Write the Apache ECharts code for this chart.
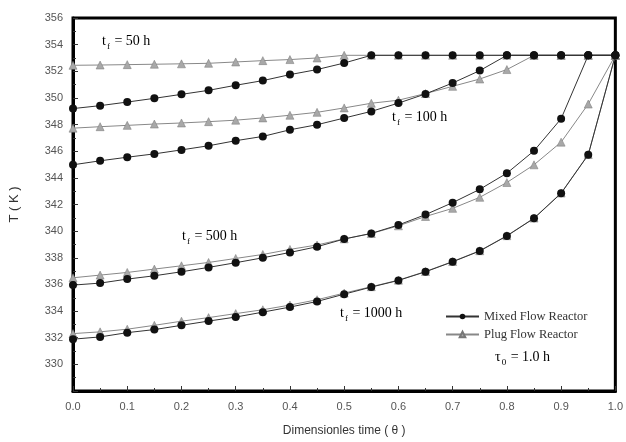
<!DOCTYPE html>
<html>
<head>
<meta charset="utf-8">
<script src="https://cdn.jsdelivr.net/npm/echarts@6/dist/echarts.min.js"></script>
<style>
  html, body { margin: 0; padding: 0; background: #fff; }
  #chart { width: 626px; height: 442px; }
</style>
</head>
<body>
<div id="chart"></div>
<script>
// dimensionless time (theta), points every 0.05
var theta = [0, 0.05, 0.1, 0.15, 0.2, 0.25, 0.3, 0.35, 0.4, 0.45, 0.5,
  0.55, 0.6, 0.65, 0.7, 0.75, 0.8, 0.85, 0.9, 0.95, 1.0];

// T (K) for mixed flow reactor / plug flow reactor, per t_f
var mixed50 = [349.2, 349.42, 349.69, 349.97, 350.27, 350.57, 350.95, 351.3, 351.75, 352.13, 352.62,
  353.2, 353.2, 353.2, 353.2, 353.2, 353.2, 353.2, 353.2, 353.2, 353.2];
var plug50 = [352.45, 352.47, 352.5, 352.53, 352.56, 352.6, 352.7, 352.8, 352.88, 353.0, 353.2,
  353.2, 353.2, 353.2, 353.2, 353.2, 353.2, 353.2, 353.2, 353.2, 353.2];
var mixed100 = [344.98, 345.28, 345.55, 345.8, 346.1, 346.41, 346.79, 347.11, 347.61, 347.99, 348.49,
  348.99, 349.61, 350.3, 351.12, 352.05, 353.2, 353.2, 353.2, 353.2, 353.2];
var plug100 = [347.73, 347.84, 347.94, 348.04, 348.12, 348.22, 348.33, 348.5, 348.7, 348.92, 349.25,
  349.6, 349.83, 350.33, 350.87, 351.42, 352.13, 353.2, 353.2, 353.2, 353.2];
var mixed500 = [335.95, 336.1, 336.4, 336.65, 336.95, 337.28, 337.63, 338.0, 338.4, 338.83, 339.41,
  339.83, 340.46, 341.24, 342.14, 343.14, 344.35, 346.03, 348.44, 353.2, 353.2];
var plug500 = [336.5, 336.7, 336.9, 337.15, 337.4, 337.65, 337.95, 338.25, 338.63, 338.96, 339.42,
  339.82, 340.4, 341.1, 341.71, 342.54, 343.65, 344.98, 346.68, 349.54, 353.2];
var mixed1000 = [331.89, 332.06, 332.38, 332.61, 332.93, 333.25, 333.55, 333.92, 334.3, 334.72, 335.27,
  335.8, 336.3, 336.95, 337.7, 338.51, 339.64, 340.96, 342.84, 345.73, 353.2];
var plug1000 = [332.31, 332.44, 332.64, 332.93, 333.24, 333.51, 333.81, 334.1, 334.45, 334.85, 335.35,
  335.83, 336.32, 336.97, 337.72, 338.53, 339.66, 340.98, 342.86, 345.75, 353.2];

var MIXED = 'Mixed Flow Reactor';
var PLUG = 'Plug Flow Reactor';

function pairs(ys) {
  return theta.map(function (t, i) { return [t, ys[i]]; });
}

function mixedSeries(ys) {
  return {
    name: MIXED, type: 'line', data: pairs(ys),
    symbol: 'circle', symbolSize: 8,
    itemStyle: { color: '#111' },
    lineStyle: { color: '#333', width: 1 },
    z: 3
  };
}
function plugSeries(ys) {
  return {
    name: PLUG, type: 'line', data: pairs(ys),
    symbol: 'triangle', symbolSize: 8,
    itemStyle: { color: '#a8a8a8', borderColor: '#777', borderWidth: 0.5 },
    lineStyle: { color: '#888', width: 1 },
    z: 2
  };
}

var serif = 'Liberation Serif';
var rich = {
  t: { fontFamily: serif, fontSize: 14, color: '#222' },
  s: { fontFamily: serif, fontSize: 9, color: '#222', padding: [11, 1, 0, 1] }
};
function tfLabel(x, y, txt) {
  return {
    type: 'text', left: x, top: y,
    style: { text: '{t|t}{s|f}{t| = ' + txt + '}', rich: rich }
  };
}

var chart = echarts.init(document.getElementById('chart'));
chart.setOption({
  animation: false,
  grid: { left: 71, right: 9, top: 18, bottom: 51, show: true, borderColor: '#000', borderWidth: 3 },
  legend: {
    orient: 'vertical', left: 440, top: 305,
    itemWidth: 33, itemHeight: 7, itemGap: 5,
    data: [MIXED, PLUG],
    textStyle: { fontFamily: serif, fontSize: 12.5, color: '#333' }
  },
  xAxis: {
    type: 'value', min: 0, max: 1, interval: 0.1,
    name: 'Dimensionles time ( θ )', nameLocation: 'middle', nameGap: 34,
    nameTextStyle: { fontFamily: 'Liberation Sans', fontSize: 12, color: '#333' },
    axisLine: { lineStyle: { color: '#000', width: 3 } },
    axisTick: { inside: true, length: 5, lineStyle: { color: '#333' } },
    minorTick: { show: true, splitNumber: 2, length: 3, lineStyle: { color: '#333' } },
    splitLine: { show: false },
    axisLabel: {
      margin: 10, fontFamily: 'Liberation Sans', fontSize: 11, color: '#555',
      formatter: function (v) { return v.toFixed(1); }
    }
  },
  yAxis: {
    type: 'value', min: 328, max: 356, interval: 2,
    name: 'T ( K )', nameLocation: 'middle', nameGap: 52, nameRotate: 90,
    nameTextStyle: { fontFamily: 'Liberation Sans', fontSize: 13, color: '#333' },
    axisLine: { lineStyle: { color: '#000', width: 3 } },
    axisTick: { inside: true, length: 5, lineStyle: { color: '#333' } },
    minorTick: { show: true, splitNumber: 2, length: 3, lineStyle: { color: '#333' } },
    splitLine: { show: false },
    axisLabel: {
      margin: 10, fontFamily: 'Liberation Sans', fontSize: 11, color: '#555',
      formatter: function (v) { return v === 328 ? '' : String(v); }
    }
  },
  graphic: [
    tfLabel(102, 34, '50 h'),
    tfLabel(392, 110, '100 h'),
    tfLabel(182, 229, '500 h'),
    tfLabel(340, 306, '1000 h'),
    {
      type: 'text', left: 495, top: 350,
      style: { text: '{t|τ}{s|0}{t| = 1.0 h}', rich: rich }
    }
  ],
  series: [
    mixedSeries(mixed50), plugSeries(plug50),
    mixedSeries(mixed100), plugSeries(plug100),
    mixedSeries(mixed500), plugSeries(plug500),
    mixedSeries(mixed1000), plugSeries(plug1000)
  ]
});
</script>
</body>
</html>
